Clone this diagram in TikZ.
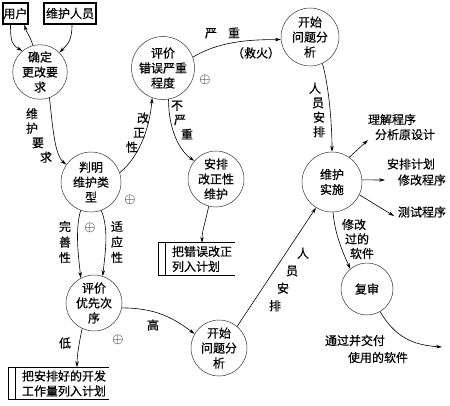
\documentclass[tikz,border=0pt]{standalone}
\usepackage{fontspec}
\setmainfont{Noto Sans CJK SC}[FakeBold=0.6]
\usetikzlibrary{arrows.meta}

\begin{document}
\begin{tikzpicture}[x=1pt, y=-1pt,
  proc/.style={circle, draw=black!80, line width=0.5pt, minimum size=56pt, inner sep=0pt,
               align=center, font=\fontsize{12}{15}\selectfont},
  ext/.style={rectangle, draw, line width=1.3pt, minimum height=21pt, inner sep=0.5pt,
              font=\fontsize{12}{15}\selectfont},
  store/.style={align=left, inner sep=3pt, font=\fontsize{12}{15}\selectfont},
  lab/.style={align=left, inner sep=0pt, font=\fontsize{12}{14.5}\selectfont},
  oplus/.style={inner sep=0pt, font=\fontsize{15}{15}\selectfont},
  arrow/.style={-{Stealth[length=6pt, width=3.5pt]}, line width=0.6pt}
]
\useasboundingbox (0,0) rectangle (450,405);

% sources
\node[ext, minimum width=25pt] (user)  at (15.5,13.5) {用户};
\node[ext, minimum width=52pt] (staff) at (70,13.5)   {维护人员};

% processes
\node[proc, minimum size=52pt] (req)    at (40,72)   {确定\\更改要\\求};
\node[proc, minimum size=58pt] (sev)    at (163,68)  {评价\\错误严重\\程度};
\node[proc, minimum size=58pt] (start1) at (310,37)  {开始\\问题分\\析};
\node[proc, minimum size=60pt] (judge)  at (91,182)  {判明\\维护类\\型};
\node[proc]                    (fix)    at (216,179) {安排\\改正性\\维护};
\node[proc, minimum size=60pt] (impl)   at (332,182) {维护\\实施};
\node[proc, minimum size=52pt] (review) at (367,289) {复审};
\node[proc]                    (prio)   at (94,303)  {评价\\优先次\\序};
\node[proc]                    (start2) at (219,348) {开始\\问题分\\析};

% data stores
\node[store] (list1) at (202,259)  {把错误改正\\列入计划};
\node[store] (list2) at (64,383.5) {把安排好的开发\\工作量列入计划};
\foreach \s in {list1, list2} {
  \draw[line width=0.6pt] (\s.north east) -- ([xshift=-11pt]\s.north west)
        -- ([xshift=-11pt]\s.south west) -- (\s.south east);
  \draw[line width=0.6pt] ([xshift=-4pt]\s.north west) -- ([xshift=-4pt]\s.south west);
}

% outputs
\node[lab, font=\fontsize{12}{15}\selectfont] (out1) at (401.5,127) {理解程序\\\hspace*{7pt}分析原设计};
\node[lab, font=\fontsize{12}{16}\selectfont] (out2) at (416.5,172) {安排计划\\\hspace*{11pt}修改程序};
\node[lab] (out3) at (422,212) {测试程序};
\node[lab, font=\fontsize{12}{17}\selectfont] (out4) at (366.5,349) {通过并交付\\\hspace*{23pt}使用的软件};
\coordinate (c1) at (368,140);
\coordinate (c2) at (385,180);
\coordinate (c3) at (394,216);
\coordinate (c4) at (442,347);

% labels
\node[lab] (lreq)  at (39,135.5)  {维\\护\\\hspace*{6pt}要\\\hspace*{14pt}求};
\node[lab] (lcor)  at (137.5,132.5) {\hspace*{11pt}改\\\hspace*{7pt}正\\性};
\node[lab] (lnot)  at (182,120)   {不\\\hspace*{3pt}严\\\hspace*{10pt}重};
\node[lab] (lsev)  at (222.5,33)  {严\hspace{11pt}重};
\node[lab] (lfire) at (256,53)    {（救火）};
\node[lab] (lman1) at (317,110)   {人\\\hspace*{3pt}员\\\hspace*{4pt}安\\\hspace*{4pt}排};
\node[lab, font=\fontsize{12}{17.5}\selectfont] (lman2) at (289,279.5)
  {\hspace*{28pt}人\\\hspace*{17pt}员\\\hspace*{8pt}安\\排};
\node[lab] (lmod)  at (358,239)   {修改\\\hspace*{3pt}过的\\\hspace*{8pt}软件};
\node[lab, align=center, font=\fontsize{12}{15.5}\selectfont] (lperf) at (65,242)  {完\\善\\性};
\node[lab, align=center, font=\fontsize{12}{15.5}\selectfont] (ladap) at (117,242) {适\\应\\性};
\node[lab] (llow)  at (65,343)    {低};
\node[lab] (lhigh) at (153,325)   {高};

\node[oplus] (p1) at (205,80)  {$\oplus$};
\node[oplus] (p2) at (130,200) {$\oplus$};
\node[oplus] (p3) at (90,228)  {$\oplus$};
\node[oplus] (p4) at (118,340) {$\oplus$};

% flows
\draw[arrow] ([xshift=-5pt]user.south) .. controls +(0,18) and +(-10,-6) .. (req.130);
\draw[arrow] (req.105) .. controls +(-3,-10) and +(2,8) .. ([xshift=9pt]user.south);
\draw[arrow] ([xshift=2pt]staff.south) .. controls +(0,16) and +(8,-8) .. (req.45);
\draw[arrow] (req.-70) .. controls +(3,25) and +(-12,-10) .. (judge.145);
\draw[arrow] (judge.18) .. controls +(22,-18) and +(-2,25) .. (sev.-110);
\draw[arrow] (sev.-80) .. controls +(0,30) and +(-15,-10) .. (fix.140);
\draw[arrow] (sev.20) .. controls +(25,-15) and +(-35,0) .. (start1.185);
\draw[arrow] (fix.-105) .. controls +(-3,15) and +(0,-12) .. (list1.north);
\draw[arrow] (start1.-65) .. controls +(6,20) and +(0,-30) .. (impl.90);
\draw[arrow] (impl.55) -- (c1);
\draw[arrow] (impl.4) -- (c2);
\draw[arrow] (impl.-25) -- (c3);
\draw[arrow] (impl.-88) .. controls +(2,25) and +(-5,-12) .. (review.130);
\draw[arrow] (review.-60) .. controls +(15,25) and +(-30,-2) .. (c4);
\draw[arrow] (judge.-110) .. controls +(-6,20) and +(-2,-20) .. (prio.118);
\draw[arrow] (judge.-70) .. controls +(8,20) and +(2,-20) .. (prio.72);
\draw[arrow] (prio.-115) .. controls +(-3,15) and +(0,-12) .. ([xshift=13pt]list2.north);
\draw[arrow] (prio.-10) .. controls +(35,0) and +(-20,-15) .. (start2.150);
\draw[arrow] (start2.50) -- (impl.-122);
\end{tikzpicture}
\end{document}
